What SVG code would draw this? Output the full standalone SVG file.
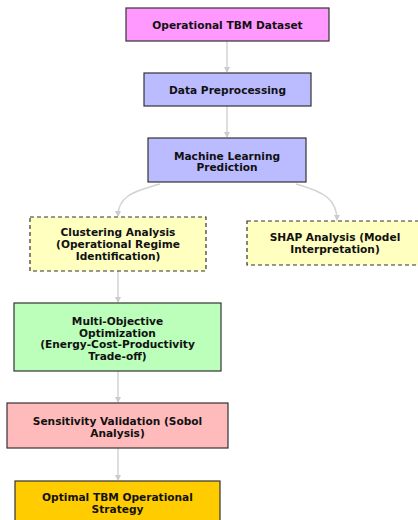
<svg xmlns="http://www.w3.org/2000/svg" width="418" height="520" viewBox="0 0 418 520">
<defs>
<marker id="ah" markerWidth="6" markerHeight="6" refX="5" refY="3" orient="auto" markerUnits="userSpaceOnUse">
<path d="M0,0 L6,3 L0,6 z" fill="#cccccc"/>
</marker>
<style>
.n{stroke:#333333;stroke-width:1.2}
.d{stroke-dasharray:4 3}
.t{font-family:"DejaVu Sans","Verdana",sans-serif;font-weight:bold;font-size:10.6px;fill:#111111;text-anchor:middle}
.c{fill:none;stroke:#d3d3d3;stroke-width:1.5;marker-end:url(#ah)}
</style>
</defs>
<rect width="418" height="520" fill="#ffffff"/>
<g id="connectors">
<path class="c" d="M227,41 L227,72"/>
<path class="c" d="M227,106 L227,137"/>
<path class="c" d="M160,184 C130,192 118,198 118,216"/>
<path class="c" d="M296,184 C325,192 337,200 337,220"/>
<path class="c" d="M118,271 L118,302"/>
<path class="c" d="M118,371 L118,402"/>
<path class="c" d="M118,448 L118,480"/>
</g>
<g id="dataset">
<rect class="n" x="126" y="8" width="203" height="33" fill="#ff99ff"/>
<text class="t" x="227.5" y="28.5">Operational TBM Dataset</text>
</g>
<g id="preprocessing">
<rect class="n" x="144" y="73" width="167" height="33" fill="#bbbbff"/>
<text class="t" x="227.5" y="93.5">Data Preprocessing</text>
</g>
<g id="ml">
<rect class="n" x="148" y="138" width="158" height="44" fill="#bbbbff"/>
<text class="t" x="227" y="159.5">Machine Learning</text>
<text class="t" x="227" y="171">Prediction</text>
</g>
<g id="clustering">
<rect class="n d" x="30" y="217" width="176" height="54" fill="#ffffc0"/>
<text class="t" x="118" y="235.5">Clustering Analysis</text>
<text class="t" x="118" y="247.5">(Operational Regime</text>
<text class="t" x="118" y="259.5">Identification)</text>
</g>
<g id="shap">
<rect class="n d" x="247" y="221" width="178" height="44" fill="#ffffc0"/>
<text class="t" x="335" y="240.5">SHAP Analysis (Model</text>
<text class="t" x="335" y="252.5">Interpretation)</text>
</g>
<g id="moo">
<rect class="n" x="14" y="303" width="207" height="68" fill="#bbffbb"/>
<text class="t" x="117.5" y="325">Multi-Objective</text>
<text class="t" x="117.5" y="336.5">Optimization</text>
<text class="t" x="117.5" y="348">(Energy-Cost-Productivity</text>
<text class="t" x="117.5" y="359.5">Trade-off)</text>
</g>
<g id="sensitivity">
<rect class="n" x="7" y="403" width="221" height="45" fill="#ffbbbb"/>
<text class="t" x="117.5" y="425">Sensitivity Validation (Sobol</text>
<text class="t" x="117.5" y="436.5">Analysis)</text>
</g>
<g id="optimal">
<rect class="n" x="15" y="481" width="205" height="45" fill="#ffcc00"/>
<text class="t" x="117.5" y="501">Optimal TBM Operational</text>
<text class="t" x="117.5" y="512.5">Strategy</text>
</g>
</svg>
